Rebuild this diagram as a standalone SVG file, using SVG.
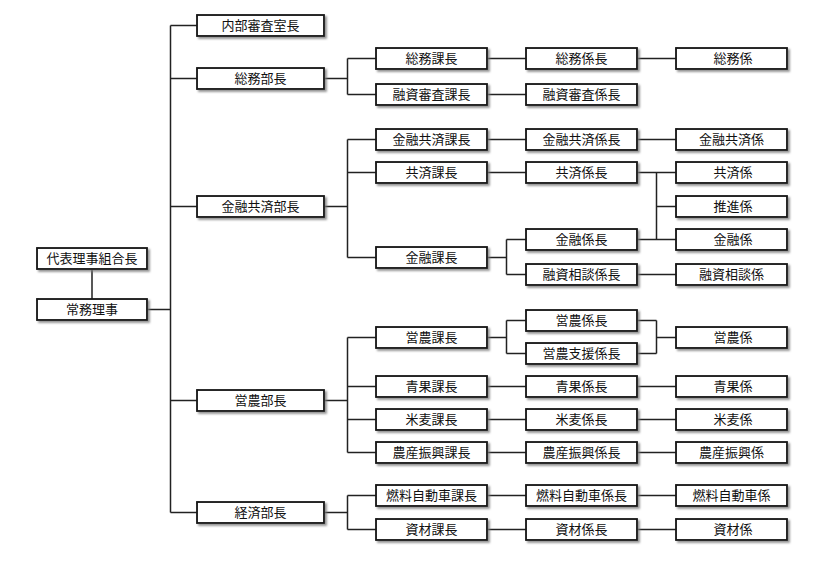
<svg xmlns="http://www.w3.org/2000/svg" width="820" height="570" viewBox="0 0 820 570">
<style>
.b{fill:#fff;stroke:#111;stroke-width:1.8;filter:url(#sh)}
.t{font-family:"Noto Sans CJK JP","Noto Sans CJK SC",sans-serif;font-size:13px;fill:#111;text-anchor:middle}
.c{fill:none;stroke:#222;stroke-width:1.5}
</style>
<defs>
<filter id="sh" x="-10%" y="-30%" width="120%" height="170%">
<feDropShadow dx="2" dy="2" stdDeviation="0.8" flood-color="#777" flood-opacity="0.8"/>
</filter>
</defs>
<rect width="820" height="570" fill="#fff"/>
<g id="connectors" class="c">
<path d="M92 269V299M147 309.5H170.5M170.5 25.5V512.5M170.5 25.5H197M170.5 78.5H197M170.5 206.5H197M170.5 400.5H197M170.5 512.5H197"/>
<path d="M324 78.5H347.5M347.5 58.5V94.5M347.5 58.5H376M347.5 94.5H376"/>
<path d="M324 206.5H347.5M347.5 139.5V257.5M347.5 139.5H376M347.5 172.5H376M347.5 257.5H376"/>
<path d="M324 400.5H347.5M347.5 337.5V452.5M347.5 337.5H376M347.5 386.5H376M347.5 419.5H376M347.5 452.5H376"/>
<path d="M324 512.5H347.5M347.5 495.5V529.5M347.5 495.5H376M347.5 529.5H376"/>
<path d="M487 58.5H526M487 94.5H526M487 139.5H526M487 172.5H526M487 386.5H526M487 419.5H526M487 452.5H526M487 495.5H526M487 529.5H526"/>
<path d="M487 257.5H506.5M506.5 239.5V274.5M506.5 239.5H526M506.5 274.5H526"/>
<path d="M487 337.5H506.5M506.5 320.5V353.5M506.5 320.5H526M506.5 353.5H526"/>
<path d="M637 58.5H676M637 139.5H676M637 274.5H676M637 386.5H676M637 419.5H676M637 452.5H676M637 495.5H676M637 529.5H676"/>
<path d="M637 172.5H656.5M637 239.5H656.5M656.5 172.5V239.5M656.5 172.5H676M656.5 206.5H676M656.5 239.5H676"/>
<path d="M637 320.5H656.5M637 353.5H656.5M656.5 320.5V353.5M656.5 337.5H676"/>
</g>
<g id="n_daihyo"><rect class="b" x="37" y="248" width="110" height="21"/><text class="t" x="92" y="263.4">代表理事組合長</text></g>
<g id="n_jomu"><rect class="b" x="37" y="299" width="110" height="21"/><text class="t" x="92" y="314.4">常務理事</text></g>
<g id="n_naibu"><rect class="b" x="197" y="15" width="127" height="21"/><text class="t" x="260.5" y="30.4">内部審査室長</text></g>
<g id="n_somubu"><rect class="b" x="197" y="68" width="127" height="21"/><text class="t" x="260.5" y="83.4">総務部長</text></g>
<g id="n_kinyukyosaibu"><rect class="b" x="197" y="196" width="127" height="21"/><text class="t" x="260.5" y="211.4">金融共済部長</text></g>
<g id="n_einobu"><rect class="b" x="197" y="390" width="127" height="21"/><text class="t" x="260.5" y="405.4">営農部長</text></g>
<g id="n_keizaibu"><rect class="b" x="197" y="502" width="127" height="21"/><text class="t" x="260.5" y="517.4">経済部長</text></g>
<g id="n_somuka"><rect class="b" x="376" y="48" width="111" height="21"/><text class="t" x="431.5" y="63.4">総務課長</text></g>
<g id="n_yushishinsaka"><rect class="b" x="376" y="84" width="111" height="21"/><text class="t" x="431.5" y="99.4">融資審査課長</text></g>
<g id="n_kinyukyosaika"><rect class="b" x="376" y="129" width="111" height="21"/><text class="t" x="431.5" y="144.4">金融共済課長</text></g>
<g id="n_kyosaika"><rect class="b" x="376" y="162" width="111" height="21"/><text class="t" x="431.5" y="177.4">共済課長</text></g>
<g id="n_kinyuka"><rect class="b" x="376" y="247" width="111" height="21"/><text class="t" x="431.5" y="262.4">金融課長</text></g>
<g id="n_einoka"><rect class="b" x="376" y="327" width="111" height="21"/><text class="t" x="431.5" y="342.4">営農課長</text></g>
<g id="n_seikaka"><rect class="b" x="376" y="376" width="111" height="21"/><text class="t" x="431.5" y="391.4">青果課長</text></g>
<g id="n_beibakuka"><rect class="b" x="376" y="409" width="111" height="21"/><text class="t" x="431.5" y="424.4">米麦課長</text></g>
<g id="n_nosanka"><rect class="b" x="376" y="442" width="111" height="21"/><text class="t" x="431.5" y="457.4">農産振興課長</text></g>
<g id="n_nenryoka"><rect class="b" x="376" y="485" width="111" height="21"/><text class="t" x="431.5" y="500.4">燃料自動車課長</text></g>
<g id="n_shizaika"><rect class="b" x="376" y="519" width="111" height="21"/><text class="t" x="431.5" y="534.4">資材課長</text></g>
<g id="n_somukakari_cho"><rect class="b" x="526" y="48" width="111" height="21"/><text class="t" x="581.5" y="63.4">総務係長</text></g>
<g id="n_yushishinsa_cho"><rect class="b" x="526" y="84" width="111" height="21"/><text class="t" x="581.5" y="99.4">融資審査係長</text></g>
<g id="n_kinyukyosai_cho"><rect class="b" x="526" y="129" width="111" height="21"/><text class="t" x="581.5" y="144.4">金融共済係長</text></g>
<g id="n_kyosai_cho"><rect class="b" x="526" y="162" width="111" height="21"/><text class="t" x="581.5" y="177.4">共済係長</text></g>
<g id="n_kinyu_cho"><rect class="b" x="526" y="229" width="111" height="21"/><text class="t" x="581.5" y="244.4">金融係長</text></g>
<g id="n_yushisodan_cho"><rect class="b" x="526" y="264" width="111" height="21"/><text class="t" x="581.5" y="279.4">融資相談係長</text></g>
<g id="n_eino_cho"><rect class="b" x="526" y="310" width="111" height="21"/><text class="t" x="581.5" y="325.4">営農係長</text></g>
<g id="n_einoshien_cho"><rect class="b" x="526" y="343" width="111" height="21"/><text class="t" x="581.5" y="358.4">営農支援係長</text></g>
<g id="n_seika_cho"><rect class="b" x="526" y="376" width="111" height="21"/><text class="t" x="581.5" y="391.4">青果係長</text></g>
<g id="n_beibaku_cho"><rect class="b" x="526" y="409" width="111" height="21"/><text class="t" x="581.5" y="424.4">米麦係長</text></g>
<g id="n_nosan_cho"><rect class="b" x="526" y="442" width="111" height="21"/><text class="t" x="581.5" y="457.4">農産振興係長</text></g>
<g id="n_nenryo_cho"><rect class="b" x="526" y="485" width="111" height="21"/><text class="t" x="581.5" y="500.4">燃料自動車係長</text></g>
<g id="n_shizai_cho"><rect class="b" x="526" y="519" width="111" height="21"/><text class="t" x="581.5" y="534.4">資材係長</text></g>
<g id="n_somukakari"><rect class="b" x="676" y="48" width="111" height="21"/><text class="t" x="733" y="63.4">総務係</text></g>
<g id="n_kinyukyosai"><rect class="b" x="676" y="129" width="111" height="21"/><text class="t" x="731.5" y="144.4">金融共済係</text></g>
<g id="n_kyosai"><rect class="b" x="676" y="162" width="111" height="21"/><text class="t" x="733" y="177.4">共済係</text></g>
<g id="n_suishin"><rect class="b" x="676" y="196" width="111" height="21"/><text class="t" x="733" y="211.4">推進係</text></g>
<g id="n_kinyu"><rect class="b" x="676" y="229" width="111" height="21"/><text class="t" x="733" y="244.4">金融係</text></g>
<g id="n_yushisodan"><rect class="b" x="676" y="264" width="111" height="21"/><text class="t" x="731.5" y="279.4">融資相談係</text></g>
<g id="n_eino"><rect class="b" x="676" y="327" width="111" height="21"/><text class="t" x="733" y="342.4">営農係</text></g>
<g id="n_seika"><rect class="b" x="676" y="376" width="111" height="21"/><text class="t" x="733" y="391.4">青果係</text></g>
<g id="n_beibaku"><rect class="b" x="676" y="409" width="111" height="21"/><text class="t" x="733" y="424.4">米麦係</text></g>
<g id="n_nosan"><rect class="b" x="676" y="442" width="111" height="21"/><text class="t" x="731.5" y="457.4">農産振興係</text></g>
<g id="n_nenryo"><rect class="b" x="676" y="485" width="111" height="21"/><text class="t" x="731.5" y="500.4">燃料自動車係</text></g>
<g id="n_shizai"><rect class="b" x="676" y="519" width="111" height="21"/><text class="t" x="733" y="534.4">資材係</text></g>
</svg>
